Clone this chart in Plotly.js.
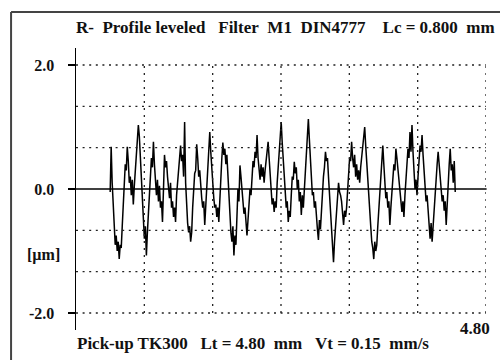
<!DOCTYPE html>
<html>
<head>
<meta charset="utf-8">
<script src="https://cdn.plot.ly/plotly-3.0.1.min.js"></script>
<style>html,body{margin:0;padding:0;background:#fff;}#chart{width:500px;height:360px;}</style>
</head>
<body>
<div id="chart"></div>
<script>
// ---- data ----
const xStartMm = 0.40;          // first sample position, mm
const xEndMm = 4.44;            // last sample position, mm
const profileUm = [
 -0.05,0.68,0.10,-0.30,-0.60,-0.90,-0.75,-1.00,-0.85,-1.13,-0.90,-0.95,-0.60,-0.30,0.20,0.40,0.30,0.68,0.45,0.10,
 0.20,-0.10,0.15,-0.25,0.05,0.30,0.55,0.80,1.03,0.85,0.50,0.10,-0.30,-0.50,-0.80,-0.60,-1.07,-0.70,-0.40,-0.10,
 0.20,0.50,0.35,0.76,0.40,0.10,-0.10,0.15,-0.20,0.05,-0.30,-0.20,-0.53,0.00,0.55,0.35,0.45,0.20,0.00,-0.15,
 0.10,-0.30,-0.20,-0.45,-0.30,-0.53,-0.10,0.10,0.30,0.50,0.70,0.45,0.55,0.20,1.08,0.10,-0.30,-0.55,-0.70,-0.60,
 -0.85,-0.70,-0.30,0.00,0.25,0.30,0.72,0.50,0.20,0.30,-0.05,-0.15,-0.30,-0.20,-0.58,-0.30,0.10,0.40,0.60,0.92,
 0.60,0.30,0.00,-0.15,-0.30,-0.25,-0.45,-0.30,-0.53,-0.10,0.30,0.50,0.75,0.55,0.65,0.40,0.55,0.20,-0.10,-0.40,
 -0.70,-0.85,-0.60,-1.07,-0.75,-0.90,-0.40,0.00,-0.20,0.38,0.20,0.00,-0.20,-0.40,-0.30,-0.60,-0.75,-0.50,-0.20,0.00,
 -0.10,0.25,0.45,0.35,0.60,0.50,0.87,0.50,0.35,0.15,0.40,0.20,0.35,0.10,0.30,0.50,0.60,0.76,0.50,0.20,
 -0.10,-0.25,-0.15,-0.37,-0.20,-0.30,0.10,0.40,0.70,0.90,1.08,0.75,0.50,0.20,-0.10,-0.30,-0.20,-0.53,-0.35,-0.45,
 -0.10,0.20,0.15,0.44,0.25,0.35,0.00,0.15,-0.20,-0.05,-0.42,-0.10,-0.30,0.00,0.30,0.60,0.85,1.13,0.80,0.50,
 0.20,-0.10,-0.05,-0.30,-0.20,-0.50,-0.65,-0.82,-0.50,-0.65,-0.30,-0.10,0.20,0.35,0.60,0.45,0.50,0.20,-0.10,-0.40,
 -0.60,-0.90,-1.18,-0.85,-0.60,-0.30,-0.10,0.10,-0.05,-0.10,-0.20,-0.40,-0.58,-0.35,-0.45,-0.30,0.00,0.30,0.50,0.45,
 0.76,0.50,0.35,0.55,0.20,0.40,0.15,0.30,0.10,0.35,0.55,0.70,0.85,1.00,0.70,0.40,0.10,-0.10,-0.40,-0.60,
 -0.85,-0.95,-1.13,-0.85,-1.00,-0.90,-0.60,-0.30,-0.10,0.20,0.45,0.70,0.40,0.10,-0.15,-0.05,-0.30,-0.20,-0.58,-0.30,
 0.00,0.25,0.40,0.30,0.65,0.50,0.30,0.10,-0.10,-0.25,-0.37,-0.20,-0.45,-0.10,0.20,0.45,0.65,0.50,0.92,0.60,
 1.03,0.60,0.30,0.00,0.15,-0.10,0.20,0.45,0.70,0.60,0.87,0.55,0.30,0.00,-0.20,-0.10,-0.40,-0.60,-0.80,-0.55,
 -0.85,-0.60,-0.30,-0.05,0.20,0.40,0.60,0.35,0.20,0.00,-0.20,-0.10,-0.35,-0.20,-0.58,-0.20,0.20,0.40,0.65,0.30,
 0.40,0.10,0.45,-0.05
];
const gridX = [0.8, 1.6, 2.4, 3.2, 4.0, 4.8];
const gridY = [2.0, 4/3, 2/3, -2/3, -4/3, -2.0];
const yTickVals = [2.0, 0.0, -2.0];
const yTickText = ['2.0', '0.0', '-2.0'];
const unitLabel = '[µm]';
const titleText = 'R-&nbsp;&nbsp;Profile leveled&nbsp;&nbsp;&nbsp;Filter&nbsp;&nbsp;M1&nbsp;&nbsp;DIN4777&nbsp;&nbsp;&nbsp;&nbsp;Lc = 0.800&nbsp;&nbsp;mm';
const footText = 'Pick-up TK300&nbsp;&nbsp;&nbsp;Lt&nbsp;=&nbsp;4.80&nbsp;&nbsp;mm&nbsp;&nbsp;&nbsp;Vt&nbsp;=&nbsp;0.15&nbsp;&nbsp;mm/s';
const xEndLabel = '4.80';

// sample positions (uniform sampling of the profilometer)
const n = profileUm.length;
const xMm = profileUm.map((_, i) => xStartMm + (xEndMm - xStartMm) * i / (n - 1));

// ---- layout geometry (pixels) ----
const L = 76, R = 486.4, T = 48, B = 330;
const W = 500, H = 360;
const px = p => (p - L) / (R - L);
const py = p => (B - p) / (B - T);
const font = {family: 'Liberation Serif, Times New Roman, serif', size: 17, color: '#111', weight: 'bold'};
const tickFont = {family: 'Liberation Serif, Times New Roman, serif', size: 16, color: '#111', weight: 'bold'};

const shapes = [];
gridY.forEach(v => shapes.push({type: 'line', xref: 'x', yref: 'y', x0: 0, x1: 4.8, y0: v, y1: v,
  line: {color: '#222', width: 1.3, dash: '2px,4.6px'}}));
gridX.forEach(v => shapes.push({type: 'line', xref: 'x', yref: 'y', x0: v, x1: v, y0: -2, y1: 2,
  line: {color: '#222', width: 1.3, dash: '2px,5px'}}));
// zero line
shapes.push({type: 'line', xref: 'paper', yref: 'y', x0: px(69), x1: px(487), y0: 0, y1: 0,
  line: {color: '#000', width: 1.6}});
// outer frame (top and left)
shapes.push({type: 'line', xref: 'paper', yref: 'paper', x0: px(11), x1: px(505), y0: py(12), y1: py(12),
  line: {color: '#444', width: 2}});
shapes.push({type: 'line', xref: 'paper', yref: 'paper', x0: px(11), x1: px(11), y0: py(12), y1: py(370),
  line: {color: '#444', width: 2}});

const annotations = [
  {text: titleText, xref: 'paper', yref: 'paper', x: px(74), y: py(28), xanchor: 'left', yanchor: 'middle', showarrow: false, font: font},
  {text: footText, xref: 'paper', yref: 'paper', x: px(75), y: py(343), xanchor: 'left', yanchor: 'middle', showarrow: false, font: font},
  {text: xEndLabel, xref: 'paper', yref: 'paper', x: px(492), y: py(328), xanchor: 'right', yanchor: 'middle', showarrow: false, font: font},
  {text: unitLabel, xref: 'paper', yref: 'paper', x: px(62), y: py(255), xanchor: 'right', yanchor: 'middle', showarrow: false, font: tickFont}
];

const trace = {x: xMm, y: profileUm, type: 'scatter', mode: 'lines',
  line: {color: '#000', width: 1.5}, hoverinfo: 'skip'};

const layout = {
  width: W, height: H,
  margin: {l: L, r: W - R, t: T, b: H - B, pad: 0},
  paper_bgcolor: '#fff', plot_bgcolor: '#fff',
  showlegend: false,
  xaxis: {range: [0, 4.8], showgrid: false, zeroline: false, showline: false, showticklabels: false, ticks: '', fixedrange: true},
  yaxis: {range: [-2.274, 2.274], showgrid: false, zeroline: false, showline: true, linecolor: '#000', linewidth: 1.5,
    tickvals: yTickVals, ticktext: yTickText, ticks: 'outside', ticklen: 7, tickwidth: 1.5, tickcolor: '#000',
    tickfont: tickFont, ticklabelstandoff: 10, fixedrange: true},
  shapes: shapes,
  annotations: annotations
};

Plotly.newPlot('chart', [trace], layout, {staticPlot: true, displayModeBar: false});
</script>
</body>
</html>
